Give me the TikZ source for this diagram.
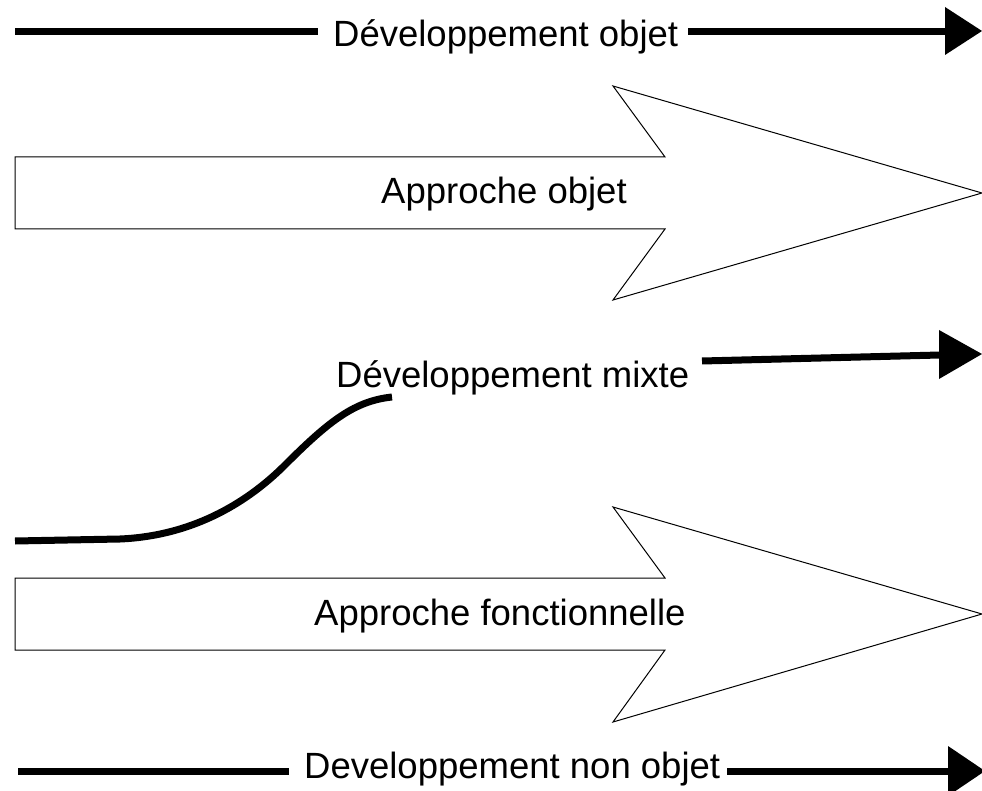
\documentclass[tikz,border=0pt]{standalone}
\usepackage{fontspec}
\setmainfont{Liberation Sans}
\begin{document}
\begin{tikzpicture}[x=1pt,y=-1pt,
  lbl/.style={anchor=base west,inner sep=0pt,font=\fontsize{36.5}{40}\selectfont},
  heavy/.style={line width=7pt},
  bigarrow/.style={draw=black,line width=1pt,fill=white,line join=miter},
  head/.style={fill=black}]
\useasboundingbox (0,0) rectangle (982,791);
\clip (0,0) rectangle (982,791);

% ---- Développement objet (top)
\node[lbl] (t1) at (333,47) {Développement objet};
\coordinate (t1a) at (15,32);
\coordinate (t1b) at (318,32);
\coordinate (t1c) at (688,32);
\coordinate (t1d) at (946,32);
\draw[heavy] (t1a) -- (t1b);
\draw[heavy] (t1c) -- (t1d);
\fill[head] (945,7) -- (982,31) -- (945,55) -- cycle;

% ---- Approche objet (big arrow)
\draw[bigarrow] (15,157) -- (665,157) -- (613,86) -- (982,193) -- (613,300) -- (665,229) -- (15,229) -- cycle;
\node[lbl] (t2) at (381,204) {Approche objet};

% ---- Développement mixte
\node[lbl] (t3) at (336,387) {Développement mixte};
\coordinate (t3a) at (702,361);
\coordinate (t3b) at (940,355);
\draw[heavy] (t3a) -- (t3b);
\fill[head] (939,330) -- (982,354) -- (939,379) -- cycle;
\coordinate (c0) at (15,541);
\coordinate (c1) at (120,539);
\coordinate (c2) at (285,465);
\coordinate (c3) at (392,397);
\draw[heavy] (c0) -- (c1) .. controls (190,536) and (245,505) .. (c2)
  .. controls (330,420) and (355,401) .. (c3);

% ---- Approche fonctionnelle (big arrow)
\draw[bigarrow] (15,578) -- (665,578) -- (613,507) -- (982,614) -- (613,722) -- (665,650) -- (15,650) -- cycle;
\node[lbl] (t4) at (314,625) {Approche fonctionnelle};

% ---- Developpement non objet (bottom)
\node[lbl] (t5) at (304,778) {Developpement non objet};
\coordinate (t5a) at (18,771);
\coordinate (t5b) at (289,771);
\coordinate (t5c) at (727,771);
\coordinate (t5d) at (949,771);
\draw[heavy] (t5a) -- (t5b);
\draw[heavy] (t5c) -- (t5d);
\fill[head] (948,746) -- (985,771) -- (948,796) -- cycle;
\end{tikzpicture}
\end{document}
